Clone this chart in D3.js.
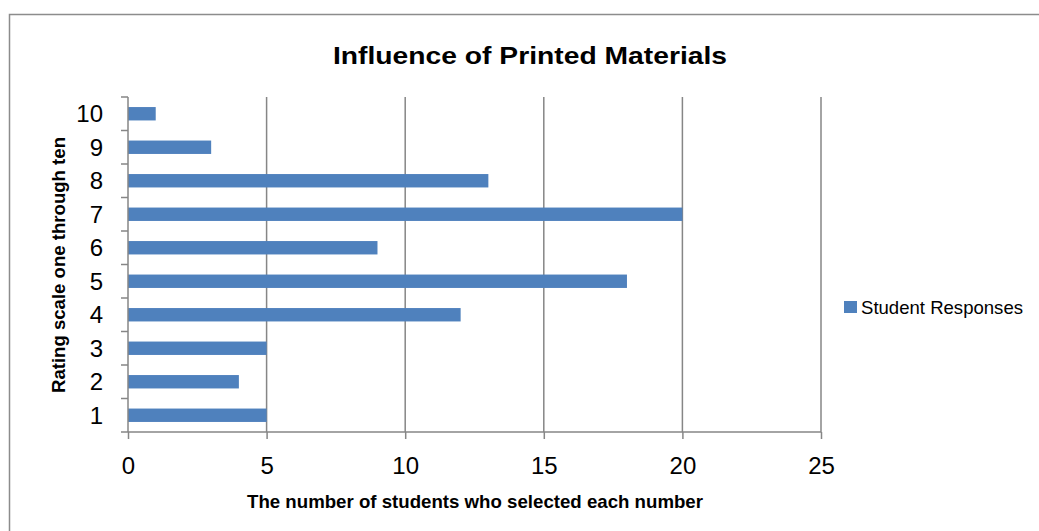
<!DOCTYPE html>
<html><head><meta charset="utf-8">
<script src="https://cdn.jsdelivr.net/npm/d3@7"></script>
<style>body{margin:0;background:#fff}svg{display:block}</style>
</head><body>
<svg id="c" width="1039" height="531"></svg>
<script>
const categories = ["1","2","3","4","5","6","7","8","9","10"];
const values = [5,4,5,12,18,9,20,13,3,1];
const xTicks = [0,5,10,15,20,25];
const seriesName = "Student Responses";

const svg = d3.select("#c");
svg.append("rect").attr("x",0).attr("y",0).attr("width",1039).attr("height",531).attr("fill","#fff");
// outer border
svg.append("path").attr("d","M9.5,531 V14.5 H1039").attr("fill","none").attr("stroke","#8c8c8c").attr("stroke-width",1.5);

const L=128, R=821, T=97, B=432;
const x = d3.scaleLinear().domain([0,25]).range([L,R]);
const y = d3.scaleBand().domain(categories.slice().reverse()).range([T,B]).paddingInner(0.6).paddingOuter(0.3);
const yEdge = d3.scaleBand().domain(categories.slice().reverse()).range([T,B]);

// gridlines
svg.append("g").selectAll("line").data(xTicks.slice(1)).join("line")
  .attr("x1",d=>x(d)).attr("x2",d=>x(d)).attr("y1",T).attr("y2",B)
  .attr("stroke","#868686").attr("stroke-width",1.5);

// bars
svg.append("g").selectAll("rect").data(values).join("rect")
  .attr("x",x(0)).attr("y",(d,i)=>y(categories[i]))
  .attr("width",d=>x(d)-x(0)).attr("height",y.bandwidth())
  .attr("fill","#4f81bd");

const FONT = "Liberation Sans, Arial, sans-serif";
// x axis
const xAxis = d3.axisBottom(x).tickValues(xTicks).tickSize(7).tickPadding(18);
const gx = svg.append("g").attr("transform",`translate(0,${B})`).call(xAxis);
gx.select(".domain").attr("stroke","#868686").attr("stroke-width",1.5).attr("d",`M${L},0H${R}`);
gx.selectAll(".tick line").attr("stroke","#868686").attr("stroke-width",1.5);
gx.selectAll("text").attr("font-family",FONT).attr("font-size",24).attr("fill","#000");

// y axis
const gy = svg.append("g").attr("transform",`translate(${L},0)`);
gy.append("line").attr("x1",0).attr("x2",0).attr("y1",T).attr("y2",B).attr("stroke","#868686").attr("stroke-width",1.5);
const edges = categories.slice().reverse().map(c=>yEdge(c)).concat([B]);
gy.selectAll("line.t").data(edges).join("line").attr("class","t")
  .attr("x1",-7).attr("x2",0).attr("y1",d=>d).attr("y2",d=>d).attr("stroke","#868686").attr("stroke-width",1.5);
gy.selectAll("text").data(categories).join("text")
  .attr("x",-25).attr("y",d=>yEdge(d)+yEdge.bandwidth()/2).attr("dy","0.36em")
  .attr("text-anchor","end").attr("font-family",FONT).attr("font-size",24).attr("fill","#000")
  .text(d=>d);

// title
svg.append("text").attr("x",530).attr("y",64).attr("text-anchor","middle")
  .attr("font-family",FONT).attr("font-weight","bold").attr("font-size",24)
  .attr("textLength",394).attr("lengthAdjust","spacingAndGlyphs")
  .text("Influence of Printed Materials");
// x axis title
svg.append("text").attr("x",475).attr("y",508).attr("text-anchor","middle")
  .attr("font-family",FONT).attr("font-weight","bold").attr("font-size",19)
  .attr("textLength",456).attr("lengthAdjust","spacingAndGlyphs")
  .text("The number of students who selected each number");
// y axis title
svg.append("text").attr("transform","translate(65,265) rotate(-90)").attr("text-anchor","middle")
  .attr("font-family",FONT).attr("font-weight","bold").attr("font-size",19)
  .attr("textLength",256).attr("lengthAdjust","spacingAndGlyphs")
  .text("Rating scale one through ten");

// legend
svg.append("rect").attr("x",844).attr("y",301).attr("width",13).attr("height",12).attr("fill","#4f81bd");
svg.append("text").attr("x",861).attr("y",314).attr("font-family",FONT).attr("font-size",19)
  .attr("textLength",162).attr("lengthAdjust","spacingAndGlyphs")
  .text(seriesName);
</script>
</body></html>
